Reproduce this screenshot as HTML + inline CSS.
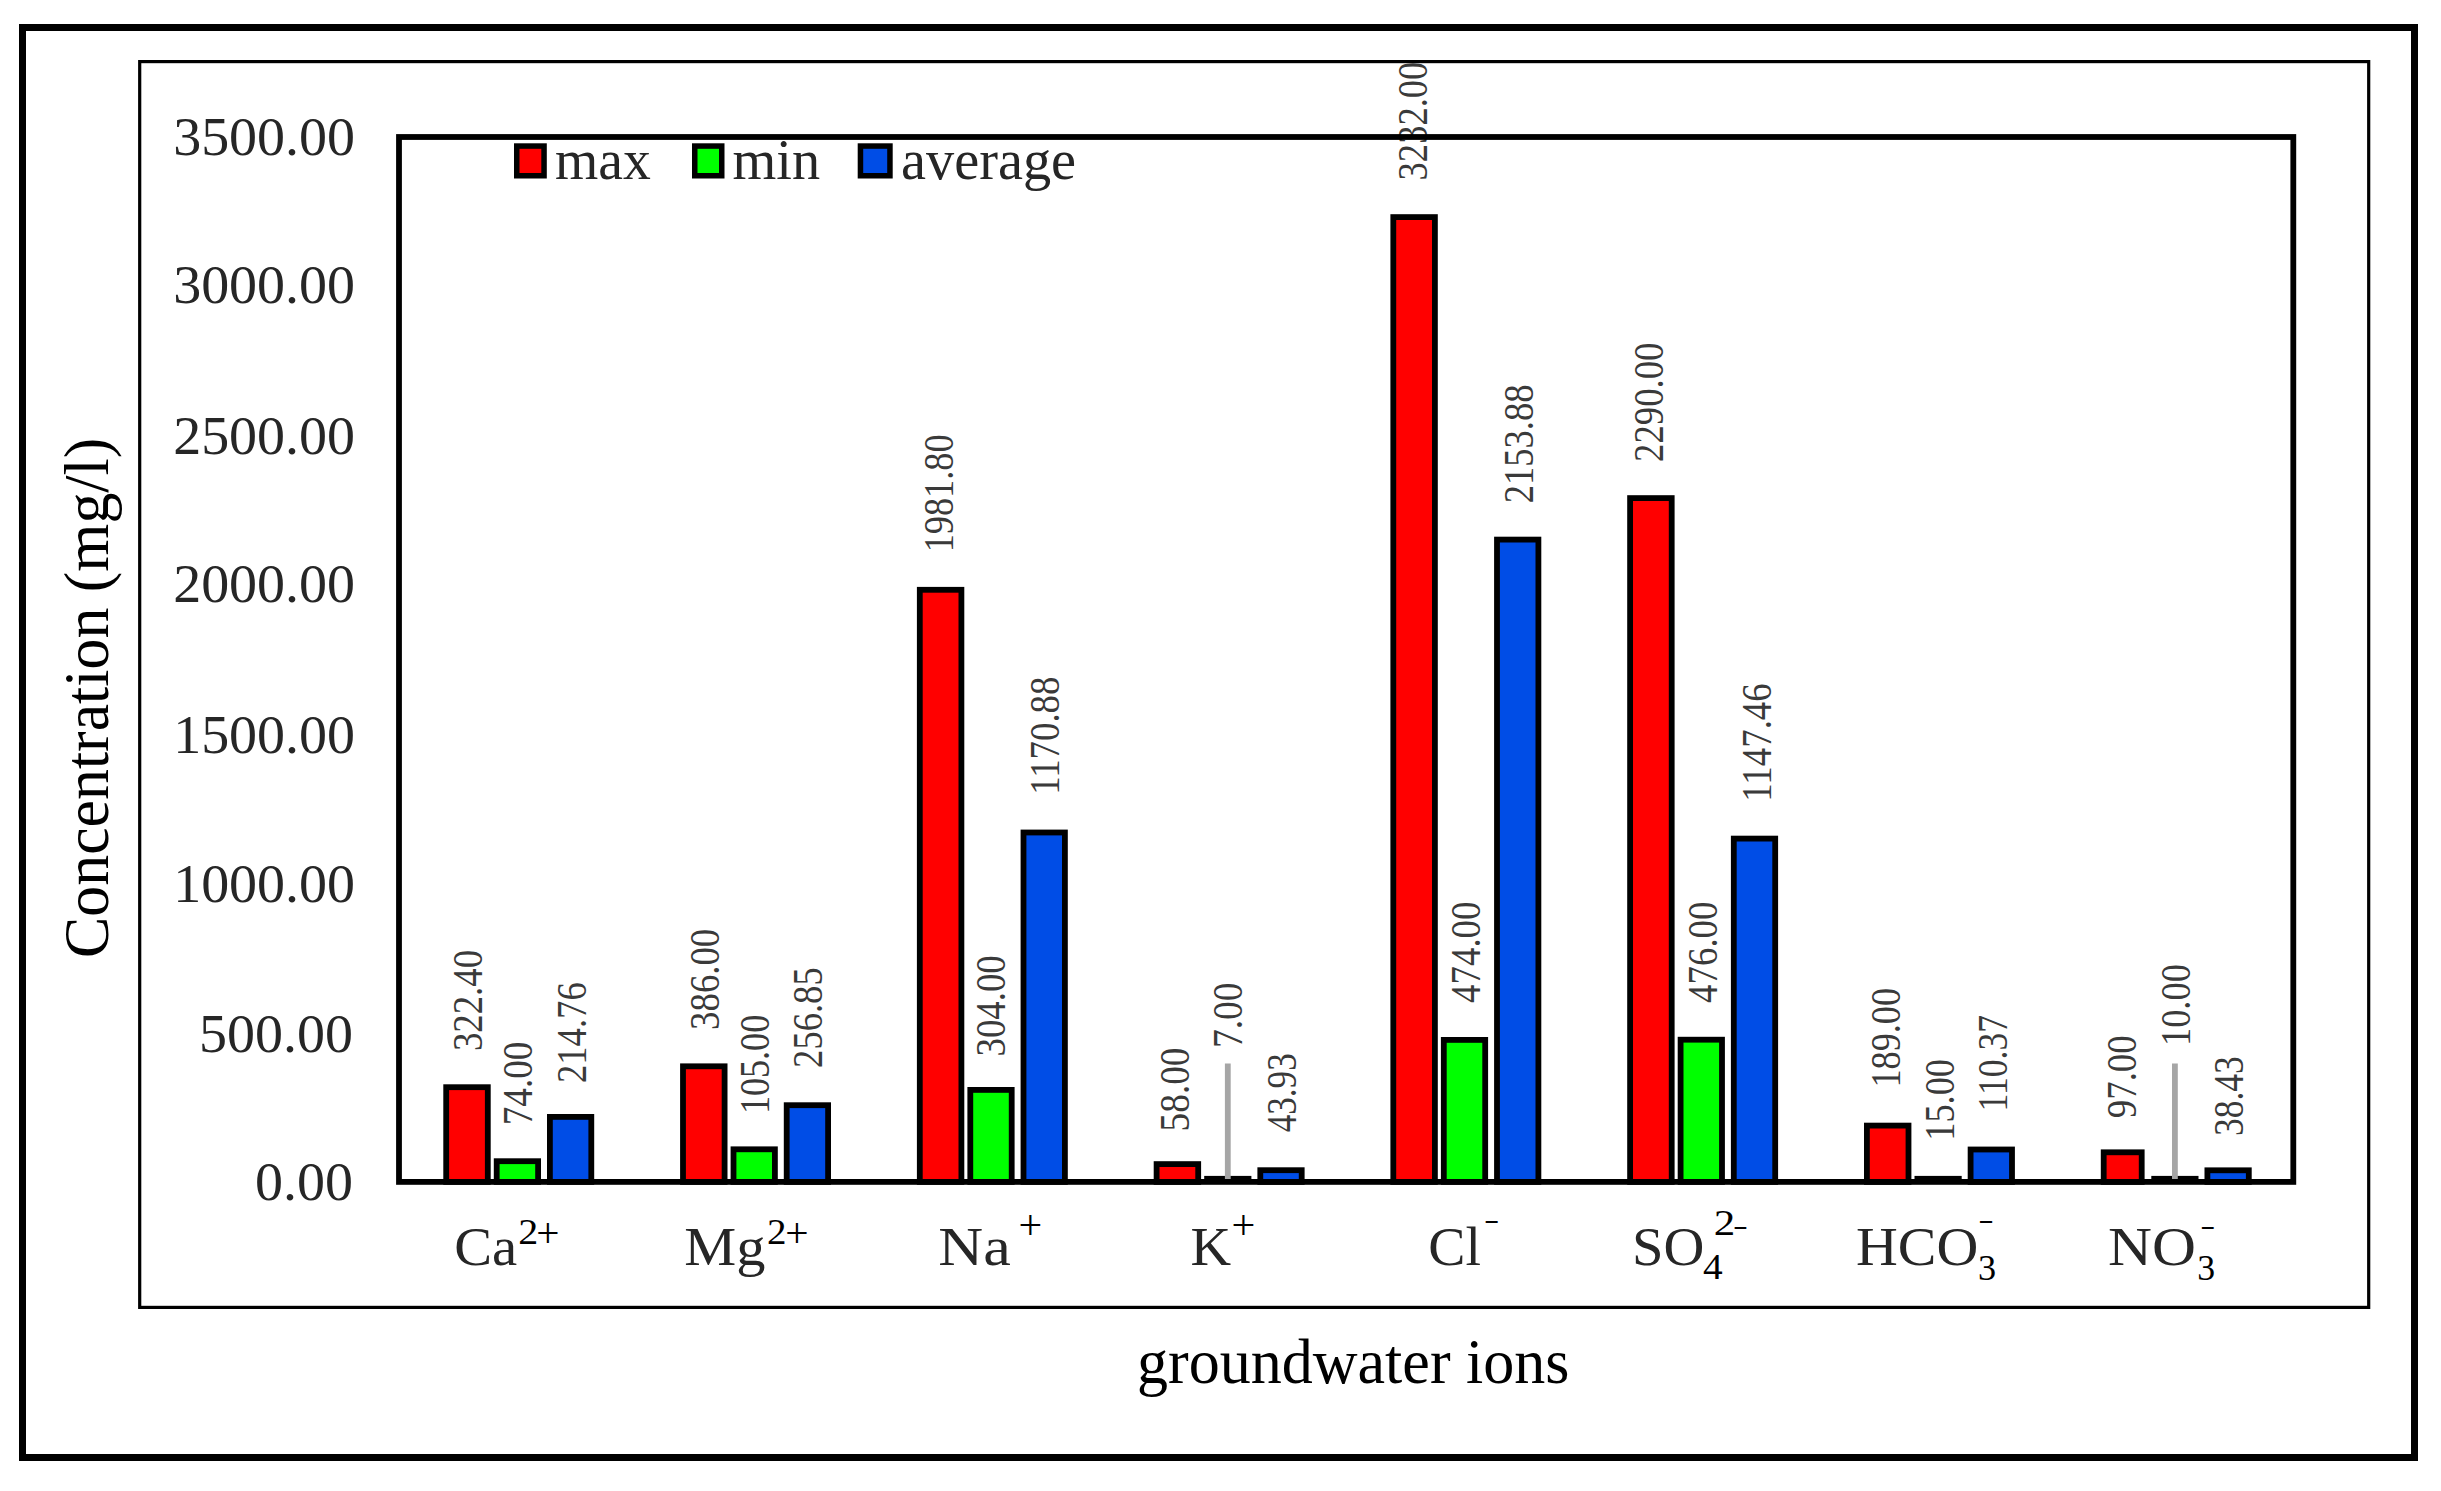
<!DOCTYPE html>
<html lang="en"><head><meta charset="utf-8"><title>groundwater ions</title>
<style>
html,body{margin:0;padding:0;background:#fff;}
body{width:2441px;height:1491px;overflow:hidden;position:relative;font-family:"Liberation Serif", serif;}
svg text{white-space:pre;}
</style></head><body>
<svg width="2441" height="1491" viewBox="0 0 2441 1491" style="position:absolute;left:0;top:0;display:block" font-family='"Liberation Serif", serif'>
<rect x="0" y="0" width="2441" height="1491" fill="#fff"/>
<rect x="22.5" y="27.5" width="2392" height="1430" fill="none" stroke="#000" stroke-width="7"/>
<rect x="139.7" y="61.6" width="2229" height="1245.8" fill="none" stroke="#000" stroke-width="3.2"/>
<g fill="#3a3a3a" font-size="42">
<text transform="translate(481.7,1051.1) rotate(-90) scale(0.8768,1)">322.40</text>
<text transform="translate(532.4,1125.2) rotate(-90) scale(0.8833,1)">74.00</text>
<text transform="translate(585.9,1083.0) rotate(-90) scale(0.8723,1)">214.76</text>
<text transform="translate(718.7,1029.9) rotate(-90) scale(0.8759,1)">386.00</text>
<text transform="translate(769.1,1114.1) rotate(-90) scale(0.8600,1)">105.00</text>
<text transform="translate(822.2,1067.9) rotate(-90) scale(0.8714,1)">256.85</text>
<text transform="translate(953.0,552.3) rotate(-90) scale(0.8634,1)">1981.80</text>
<text transform="translate(1005.3,1056.5) rotate(-90) scale(0.8768,1)">304.00</text>
<text transform="translate(1059.0,794.8) rotate(-90) scale(0.8760,1)">1170.88</text>
<text transform="translate(1189.3,1131.4) rotate(-90) scale(0.8878,1)">58.00</text>
<text transform="translate(1242.4,1048.0) rotate(-90) scale(0.8913,1)">7.00</text>
<text transform="translate(1295.8,1132.2) rotate(-90) scale(0.8348,1)">43.93</text>
<text transform="translate(1426.5,180.4) rotate(-90) scale(0.8699,1)">3232.00</text>
<text transform="translate(1480.1,1002.9) rotate(-90) scale(0.8779,1)">474.00</text>
<text transform="translate(1532.9,503.3) rotate(-90) scale(0.8707,1)">2153.88</text>
<text transform="translate(1663.0,461.9) rotate(-90) scale(0.8744,1)">2290.00</text>
<text transform="translate(1717.0,1002.9) rotate(-90) scale(0.8779,1)">476.00</text>
<text transform="translate(1770.6,801.7) rotate(-90) scale(0.8777,1)">1147.46</text>
<text transform="translate(1899.8,1087.5) rotate(-90) scale(0.8618,1)">189.00</text>
<text transform="translate(1953.5,1140.8) rotate(-90) scale(0.8663,1)">15.00</text>
<text transform="translate(2006.5,1111.4) rotate(-90) scale(0.8459,1)">110.37</text>
<text transform="translate(2136.4,1118.2) rotate(-90) scale(0.8772,1)">97.00</text>
<text transform="translate(2190.0,1046.0) rotate(-90) scale(0.8663,1)">10.00</text>
<text transform="translate(2242.8,1135.9) rotate(-90) scale(0.8429,1)">38.43</text>
</g>
<rect x="399.0" y="137.0" width="1894.3" height="1044.9" fill="none" stroke="#000" stroke-width="5.8"/>
<rect x="446.2" y="1087.2" width="41.6" height="94.7" fill="#ff0000" stroke="#000" stroke-width="5.8"/>
<rect x="496.7" y="1161.2" width="41.4" height="20.7" fill="#00ff00" stroke="#000" stroke-width="5.8"/>
<rect x="549.9" y="1116.9" width="41.4" height="65.0" fill="#004de6" stroke="#000" stroke-width="5.8"/>
<rect x="683.0" y="1066.3" width="41.6" height="115.6" fill="#ff0000" stroke="#000" stroke-width="5.8"/>
<rect x="733.5" y="1149.3" width="41.4" height="32.6" fill="#00ff00" stroke="#000" stroke-width="5.8"/>
<rect x="786.7" y="1105.2" width="41.4" height="76.7" fill="#004de6" stroke="#000" stroke-width="5.8"/>
<rect x="919.8" y="589.8" width="41.6" height="592.1" fill="#ff0000" stroke="#000" stroke-width="5.8"/>
<rect x="970.3" y="1089.9" width="41.4" height="92.0" fill="#00ff00" stroke="#000" stroke-width="5.8"/>
<rect x="1023.5" y="832.5" width="41.4" height="349.4" fill="#004de6" stroke="#000" stroke-width="5.8"/>
<rect x="1156.6" y="1164.1" width="41.6" height="17.8" fill="#ff0000" stroke="#000" stroke-width="5.8"/>
<rect x="1204.2" y="1175.9" width="47.2" height="4" fill="#000"/>
<rect x="1260.3" y="1170.2" width="41.4" height="11.7" fill="#004de6" stroke="#000" stroke-width="5.8"/>
<rect x="1393.3" y="217.1" width="41.6" height="964.8" fill="#ff0000" stroke="#000" stroke-width="5.8"/>
<rect x="1443.8" y="1039.9" width="41.4" height="142.0" fill="#00ff00" stroke="#000" stroke-width="5.8"/>
<rect x="1497.0" y="539.6" width="41.4" height="642.3" fill="#004de6" stroke="#000" stroke-width="5.8"/>
<rect x="1630.1" y="498.1" width="41.6" height="683.8" fill="#ff0000" stroke="#000" stroke-width="5.8"/>
<rect x="1680.6" y="1039.7" width="41.4" height="142.2" fill="#00ff00" stroke="#000" stroke-width="5.8"/>
<rect x="1733.8" y="838.6" width="41.4" height="343.3" fill="#004de6" stroke="#000" stroke-width="5.8"/>
<rect x="1866.9" y="1125.6" width="41.6" height="56.3" fill="#ff0000" stroke="#000" stroke-width="5.8"/>
<rect x="1914.5" y="1175.9" width="47.2" height="4" fill="#000"/>
<rect x="1970.6" y="1149.5" width="41.4" height="32.4" fill="#004de6" stroke="#000" stroke-width="5.8"/>
<rect x="2103.7" y="1152.3" width="38.0" height="29.6" fill="#ff0000" stroke="#000" stroke-width="5.8"/>
<rect x="2151.3" y="1175.9" width="47.2" height="4" fill="#000"/>
<rect x="2207.4" y="1170.3" width="41.4" height="11.6" fill="#004de6" stroke="#000" stroke-width="5.8"/>
<rect x="1224.9" y="1063.5" width="5.8" height="115.5" fill="#a6a6a6"/>
<rect x="2172.0" y="1063.5" width="5.8" height="115.5" fill="#a6a6a6"/>
<text transform="translate(254.93,1200.2) scale(1.0178,1)" font-size="55" fill="#262626">0.00</text>
<text transform="translate(198.95,1051.7) scale(1.0178,1)" font-size="55" fill="#262626">500.00</text>
<text transform="translate(173.15,901.5) scale(1.0178,1)" font-size="55" fill="#262626">1000.00</text>
<text transform="translate(173.15,752.9) scale(1.0178,1)" font-size="55" fill="#262626">1500.00</text>
<text transform="translate(173.15,602.0) scale(1.0178,1)" font-size="55" fill="#262626">2000.00</text>
<text transform="translate(173.15,453.9) scale(1.0178,1)" font-size="55" fill="#262626">2500.00</text>
<text transform="translate(173.15,303.2) scale(1.0178,1)" font-size="55" fill="#262626">3000.00</text>
<text transform="translate(173.15,155.0) scale(1.0178,1)" font-size="55" fill="#262626">3500.00</text>
<rect x="516.75" y="146.05" width="27.30" height="29.70" fill="#ff0000" stroke="#000" stroke-width="5.5"/>
<rect x="694.75" y="146.05" width="27.00" height="29.70" fill="#00ff00" stroke="#000" stroke-width="5.5"/>
<rect x="860.45" y="146.05" width="29.50" height="29.70" fill="#004de6" stroke="#000" stroke-width="5.5"/>
<text transform="translate(555.01,178.50) scale(0.9937,1)" font-size="56" fill="#262626">max</text>
<text transform="translate(732.49,178.50) scale(1.0059,1)" font-size="56" fill="#262626">min</text>
<text transform="translate(901.09,178.50) scale(1.0053,1)" font-size="56" fill="#262626">average</text>
<text transform="translate(454.16,1264.60) scale(1.0220,1)" font-size="55.5" fill="#262626">Ca</text>
<text transform="translate(684.29,1264.60) scale(1.0527,1)" font-size="55.5" fill="#262626">Mg</text>
<text transform="translate(938.36,1264.60) scale(1.1194,1)" font-size="55.5" fill="#262626">Na</text>
<text transform="translate(1190.47,1264.60) scale(1.0132,1)" font-size="55.5" fill="#262626">K</text>
<text transform="translate(1428.29,1264.60) scale(1.0041,1)" font-size="55.5" fill="#262626">Cl</text>
<text transform="translate(1631.92,1264.60) scale(1.0200,1)" font-size="55.5" fill="#262626">SO</text>
<text transform="translate(1855.91,1264.60) scale(1.0442,1)" font-size="55.5" fill="#262626">HCO</text>
<text transform="translate(2108.01,1264.60) scale(1.0974,1)" font-size="55.5" fill="#262626">NO</text>
<text transform="translate(518.21,1243.70) scale(1.1429,1)" font-size="35" fill="#000">2</text>
<text transform="translate(766.97,1243.70) scale(1.1143,1)" font-size="35" fill="#000">2</text>
<text transform="translate(1713.84,1234.60) scale(1.2286,1)" font-size="35" fill="#000">2</text>
<text transform="translate(1702.88,1279.30) scale(1.1250,1)" font-size="35" fill="#000">4</text>
<text transform="translate(1977.93,1279.50) scale(1.0357,1)" font-size="35" fill="#000">3</text>
<text transform="translate(2197.26,1279.50) scale(1.0214,1)" font-size="35" fill="#000">3</text>
<text transform="translate(536.24,1247.40) scale(0.9800,1)" font-size="42" fill="#000">+</text>
<text transform="translate(785.23,1247.40) scale(0.9850,1)" font-size="42" fill="#000">+</text>
<text transform="translate(1018.40,1238.60) scale(1.0000,1)" font-size="42" fill="#000">+</text>
<text transform="translate(1231.49,1238.60) scale(1.0050,1)" font-size="42" fill="#000">+</text>
<text transform="translate(1483.89,1228.40) scale(1.3111,0.8)" font-size="35" fill="#000">-</text>
<text transform="translate(1733.02,1234.40) scale(1.2778,0.8)" font-size="35" fill="#000">-</text>
<text transform="translate(1978.27,1228.40) scale(1.3333,0.8)" font-size="35" fill="#000">-</text>
<text transform="translate(2200.31,1234.30) scale(1.2889,0.8)" font-size="35" fill="#000">-</text>
<text transform="translate(1137.09,1382.7) scale(0.9692,1)" font-size="64" fill="#000">groundwater ions</text>
<text transform="translate(108,957.90) rotate(-90) scale(0.9662,1)" font-size="64" fill="#000">Concentration (mg/l)</text>
</svg>
</body></html>
